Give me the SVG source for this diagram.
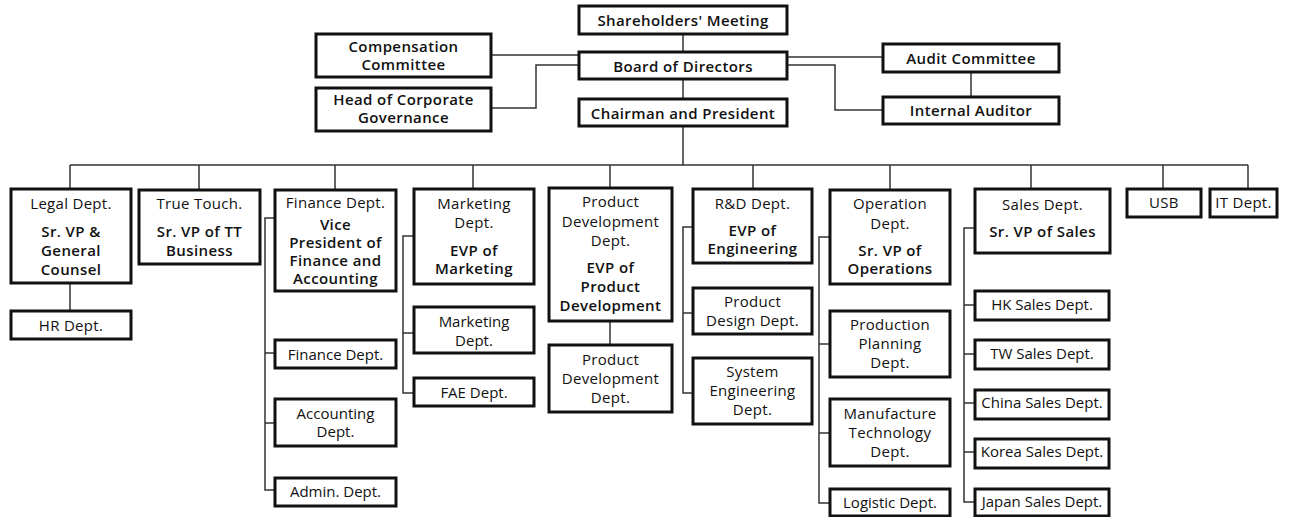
<svg xmlns="http://www.w3.org/2000/svg" width="1292" height="517" viewBox="0 0 1292 517">
<style>
rect{fill:#fff;stroke:#111;stroke-width:3}
.c path{fill:none;stroke:#333;stroke-width:1.5}
text{font-family:"Open Sans","Noto Sans","DejaVu Sans",sans-serif;font-size:15px;fill:#111;text-anchor:middle}
.b{font-weight:600;letter-spacing:0.4px}
.t{letter-spacing:0.3px}
</style>
<rect x="0" y="0" width="1292" height="517" style="stroke:none"/>
<g class="c">
<path d="M683 35V51M683 80V98M683 127V165M70 165H1248"/>
<path d="M492 55H578M492 108H536V65H578"/>
<path d="M788 57H882M788 65H835V110H882M971 73V96"/>
<path d="M70 165V188M199 165V189M335 165V189M473 165V188M610 165V187M753 165V188M890 165V189M1031 165V188M1163 165V188M1248 165V188"/>
<path d="M70 284V310"/>
<path d="M274 218H265V490H274M265 353H274M265 423H274"/>
<path d="M413 236H403V393H413M403 333H413"/>
<path d="M610 322V344"/>
<path d="M692 227H683V393H692M683 313H692"/>
<path d="M829 237H819V503H829M819 344H829M819 433H829"/>
<path d="M974 228H964V502H974M964 305H974M964 354H974M964 403H974M964 452H974"/>
</g>
<g id="shareholders"><rect x="579" y="6" width="208" height="28"/><text class="b" x="683" y="26">Shareholders' Meeting</text></g>
<g id="board"><rect x="579" y="52" width="208" height="27"/><text class="b" x="683" y="72">Board of Directors</text></g>
<g id="chairman"><rect x="579" y="99" width="208" height="27"/><text class="b" x="683" y="119">Chairman and President</text></g>
<g id="compensation"><rect x="316" y="34" width="175" height="43"/><text class="b" x="403.5" y="52">Compensation</text><text class="b" x="403.5" y="70">Committee</text></g>
<g id="governance"><rect x="316" y="88" width="175" height="43"/><text class="b" x="403.5" y="105">Head of Corporate</text><text class="b" x="403.5" y="123">Governance</text></g>
<g id="audit"><rect x="883" y="44" width="176" height="28"/><text class="b" x="971" y="64">Audit Committee</text></g>
<g id="internal"><rect x="883" y="97" width="176" height="27"/><text class="b" x="971" y="116">Internal Auditor</text></g>

<g id="legal"><rect x="11" y="189" width="120" height="94"/><text class="t" x="71" y="209">Legal Dept.</text><text class="b" x="71" y="237">Sr. VP &amp;</text><text class="b" x="71" y="256">General</text><text class="b" x="71" y="275">Counsel</text></g>
<g id="hr"><rect x="11" y="311" width="120" height="28"/><text class="t" x="71" y="331">HR Dept.</text></g>
<g id="truetouch"><rect x="139" y="190" width="121" height="74"/><text class="t" x="199.5" y="209">True Touch.</text><text class="b" x="199.5" y="237">Sr. VP of TT</text><text class="b" x="199.5" y="256">Business</text></g>
<g id="finance"><rect x="275" y="190" width="121" height="101"/><text class="t" x="335.5" y="208">Finance Dept.</text><text class="b" x="335.5" y="230">Vice</text><text class="b" x="335.5" y="248">President of</text><text class="b" x="335.5" y="266">Finance and</text><text class="b" x="335.5" y="284">Accounting</text></g>
<g id="finance2"><rect x="275" y="340" width="121" height="28"/><text x="335.5" y="360">Finance Dept.</text></g>
<g id="accounting"><rect x="275" y="399" width="121" height="47"/><text x="335.5" y="419">Accounting</text><text x="335.5" y="437">Dept.</text></g>
<g id="admin"><rect x="275" y="478" width="121" height="28"/><text x="335.5" y="497">Admin. Dept.</text></g>
<g id="marketing"><rect x="414" y="189" width="120" height="95"/><text class="t" x="474" y="209">Marketing</text><text class="t" x="474" y="228">Dept.</text><text class="b" x="474" y="256">EVP of</text><text class="b" x="474" y="274">Marketing</text></g>
<g id="marketing2"><rect x="414" y="307" width="120" height="46"/><text x="474" y="327">Marketing</text><text x="474" y="346">Dept.</text></g>
<g id="fae"><rect x="414" y="378" width="120" height="28"/><text x="474" y="398">FAE Dept.</text></g>
<g id="productdev"><rect x="549" y="188" width="123" height="133"/><text class="t" x="610.5" y="207">Product</text><text class="t" x="610.5" y="227">Development</text><text class="t" x="610.5" y="246">Dept.</text><text class="b" x="610.5" y="273">EVP of</text><text class="b" x="610.5" y="292">Product</text><text class="b" x="610.5" y="311">Development</text></g>
<g id="productdev2"><rect x="549" y="345" width="123" height="67"/><text class="t" x="610.5" y="365">Product</text><text class="t" x="610.5" y="384">Development</text><text class="t" x="610.5" y="403">Dept.</text></g>
<g id="rd"><rect x="693" y="189" width="119" height="74"/><text class="t" x="752.5" y="209">R&amp;D Dept.</text><text class="b" x="752.5" y="236">EVP of</text><text class="b" x="752.5" y="254">Engineering</text></g>
<g id="productdesign"><rect x="693" y="288" width="119" height="46"/><text class="t" x="752.5" y="307">Product</text><text class="t" x="752.5" y="326">Design Dept.</text></g>
<g id="systemeng"><rect x="693" y="358" width="119" height="66"/><text class="t" x="752.5" y="377">System</text><text class="t" x="752.5" y="396">Engineering</text><text class="t" x="752.5" y="415">Dept.</text></g>
<g id="operation"><rect x="830" y="190" width="120" height="94"/><text class="t" x="890" y="209">Operation</text><text class="t" x="890" y="229">Dept.</text><text class="b" x="890" y="256">Sr. VP of</text><text class="b" x="890" y="274">Operations</text></g>
<g id="planning"><rect x="830" y="311" width="120" height="66"/><text class="t" x="890" y="330">Production</text><text class="t" x="890" y="349">Planning</text><text class="t" x="890" y="368">Dept.</text></g>
<g id="manufacture"><rect x="830" y="399" width="120" height="67"/><text class="t" x="890" y="419">Manufacture</text><text class="t" x="890" y="438">Technology</text><text class="t" x="890" y="457">Dept.</text></g>
<g id="logistic"><rect x="830" y="489" width="120" height="27"/><text x="890" y="508">Logistic Dept.</text></g>
<g id="sales"><rect x="975" y="189" width="135" height="64"/><text class="t" x="1042.5" y="210">Sales Dept.</text><text class="b" x="1042.5" y="237">Sr. VP of Sales</text></g>
<g id="hk"><rect x="975" y="291" width="134" height="29"/><text x="1042" y="310">HK Sales Dept.</text></g>
<g id="tw"><rect x="975" y="340" width="134" height="29"/><text x="1042" y="359">TW Sales Dept.</text></g>
<g id="china"><rect x="975" y="390" width="134" height="29"/><text x="1042" y="408">China Sales Dept.</text></g>
<g id="korea"><rect x="975" y="439" width="134" height="29"/><text x="1042" y="457">Korea Sales Dept.</text></g>
<g id="japan"><rect x="975" y="489" width="134" height="27"/><text x="1042" y="507">Japan Sales Dept.</text></g>
<g id="usb"><rect x="1127" y="189" width="74" height="28"/><text class="t" x="1164" y="208">USB</text></g>
<g id="it"><rect x="1210" y="189" width="67" height="28"/><text class="t" x="1243.5" y="208">IT Dept.</text></g>
</svg>
